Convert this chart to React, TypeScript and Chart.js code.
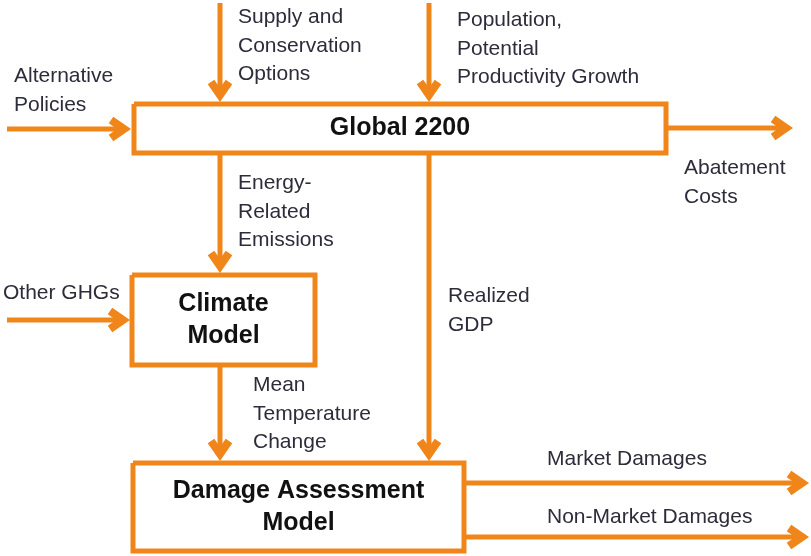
import React, { useEffect, useRef } from 'react';
import { Chart, registerables } from 'chart.js';

Chart.register(...registerables);

// ---- Diagram data (diagram units = 811 x 556 grid) ----
const ORANGE = '#F0861A';
const TEXT = '#2c2c3a';

// Model boxes
const boxTitles = [['Global 2200'], ['Climate', 'Model'], ['Damage Assessment', 'Model']];
const boxLeft = [134, 132, 133];
const boxTop = [104, 275, 463];
const boxRight = [666, 315, 464];
const boxBottom = [153, 365, 551];

// Flow arrows
const arrowNames = ['supply', 'population', 'policies', 'abatement', 'energy', 'ghg', 'gdp', 'temperature', 'market', 'nonMarket'];
const arrowFromX = [220, 429, 7, 668, 220, 7, 429, 220, 466, 466];
const arrowFromY = [3, 3, 129, 128, 155, 320, 155, 367, 483, 537];
const arrowToX = [220, 429, 131, 793, 220, 130, 429, 220, 809, 809];
const arrowToY = [102, 102, 129, 128, 273, 320, 461, 461, 483, 537];

// Flow labels (first line position, left aligned)
const flowLabels = [
  ['Supply and', 'Conservation', 'Options'],
  ['Population,', 'Potential', 'Productivity Growth'],
  ['Alternative', 'Policies'],
  ['Abatement', 'Costs'],
  ['Energy-', 'Related', 'Emissions'],
  ['Other GHGs'],
  ['Realized', 'GDP'],
  ['Mean', 'Temperature', 'Change'],
  ['Market Damages'],
  ['Non-Market Damages'],
];
const flowLabelX = [238, 457, 14, 684, 238, 3, 448, 253, 547, 547];
const flowLabelY = [17, 20, 76, 168, 183, 293, 296, 385, 459, 517];

const FONT = '"Liberation Sans", Arial, sans-serif';

const diagramPlugin = {
  id: 'diagram',
  afterDatasetsDraw(chart: any) {
    const ctx = chart.ctx as CanvasRenderingContext2D;
    const xs = chart.scales.x;
    const ys = chart.scales.y;
    // arrowheads
    ctx.save();
    ctx.strokeStyle = ORANGE;
    ctx.lineWidth = 8;
    ctx.lineJoin = 'miter';
    ctx.miterLimit = 3;
    ctx.lineCap = 'butt';
    for (let i = 0; i < arrowNames.length; i++) {
      const x0 = xs.getPixelForValue(arrowFromX[i]);
      const y0 = ys.getPixelForValue(arrowFromY[i]);
      const x1 = xs.getPixelForValue(arrowToX[i]);
      const y1 = ys.getPixelForValue(arrowToY[i]);
      const len = Math.hypot(x1 - x0, y1 - y0);
      const ux = (x1 - x0) / len;
      const uy = (y1 - y0) / len;
      const nx = -uy;
      const ny = ux;
      const tx = x1 - ux * 7;
      const ty = y1 - uy * 7;
      const L = 13;
      const W = 9;
      ctx.beginPath();
      ctx.moveTo(tx - ux * L + nx * W, ty - uy * L + ny * W);
      ctx.lineTo(tx, ty);
      ctx.lineTo(tx - ux * L - nx * W, ty - uy * L - ny * W);
      ctx.stroke();
    }
    ctx.restore();

    // box titles
    ctx.save();
    ctx.fillStyle = '#111111';
    ctx.textAlign = 'center';
    ctx.textBaseline = 'middle';
    ctx.font = `bold 25px ${FONT}`;
    for (let i = 0; i < boxTitles.length; i++) {
      const cx = xs.getPixelForValue((boxLeft[i] + boxRight[i]) / 2);
      const cy = ys.getPixelForValue((boxTop[i] + boxBottom[i]) / 2);
      const lines = boxTitles[i];
      const lh = 32;
      const startY = cy - ((lines.length - 1) * lh) / 2;
      lines.forEach((t, k) => ctx.fillText(t, cx, startY + k * lh));
    }
    ctx.restore();

    // flow labels
    ctx.save();
    ctx.fillStyle = TEXT;
    ctx.textAlign = 'left';
    ctx.textBaseline = 'middle';
    ctx.font = `21px ${FONT}`;
    for (let i = 0; i < flowLabels.length; i++) {
      const lx = xs.getPixelForValue(flowLabelX[i]);
      const ly = ys.getPixelForValue(flowLabelY[i]);
      flowLabels[i].forEach((t, k) => ctx.fillText(t, lx, ly + k * 28.8));
    }
    ctx.restore();
  },
};

export default function App() {
  const ref = useRef<HTMLCanvasElement | null>(null);
  useEffect(() => {
    document.body.style.margin = '0';
    const datasets: any[] = [];
    for (let i = 0; i < boxTitles.length; i++) {
      datasets.push({
        type: 'line',
        label: boxTitles[i].join(' '),
        data: [
          { x: boxLeft[i], y: boxTop[i] },
          { x: boxRight[i], y: boxTop[i] },
          { x: boxRight[i], y: boxBottom[i] },
          { x: boxLeft[i], y: boxBottom[i] },
          { x: boxLeft[i], y: boxTop[i] },
        ],
        borderColor: ORANGE,
        borderWidth: 5,
        borderJoinStyle: 'miter',
        backgroundColor: 'rgba(255,255,255,0)',
        pointRadius: 0,
        fill: false,
        tension: 0,
      });
    }
    for (let i = 0; i < arrowNames.length; i++) {
      const dx = arrowToX[i] - arrowFromX[i];
      const dy = arrowToY[i] - arrowFromY[i];
      const len = Math.hypot(dx, dy);
      datasets.push({
        type: 'line',
        label: arrowNames[i],
        data: [
          { x: arrowFromX[i], y: arrowFromY[i] },
          { x: arrowToX[i] - (dx / len) * 9, y: arrowToY[i] - (dy / len) * 9 },
        ],
        borderColor: ORANGE,
        borderWidth: 5,
        borderCapStyle: 'butt',
        pointRadius: 0,
        fill: false,
      });
    }
    const chart = new Chart(ref.current as HTMLCanvasElement, {
      type: 'line',
      data: { datasets },
      options: {
        animation: false,
        responsive: false,
        parsing: true,
        layout: { padding: 0 },
        plugins: { legend: { display: false }, tooltip: { enabled: false } },
        scales: {
          x: { type: 'linear', min: 0, max: 811, display: false },
          y: { type: 'linear', min: 0, max: 556, reverse: true, display: false },
        },
      },
      plugins: [diagramPlugin],
    });
    return () => chart.destroy();
  }, []);
  return (
    <div style={{ width: 811, height: 556, background: '#ffffff' }}>
      <canvas ref={ref} width={811} height={556} style={{ display: 'block' }} />
    </div>
  );
}
